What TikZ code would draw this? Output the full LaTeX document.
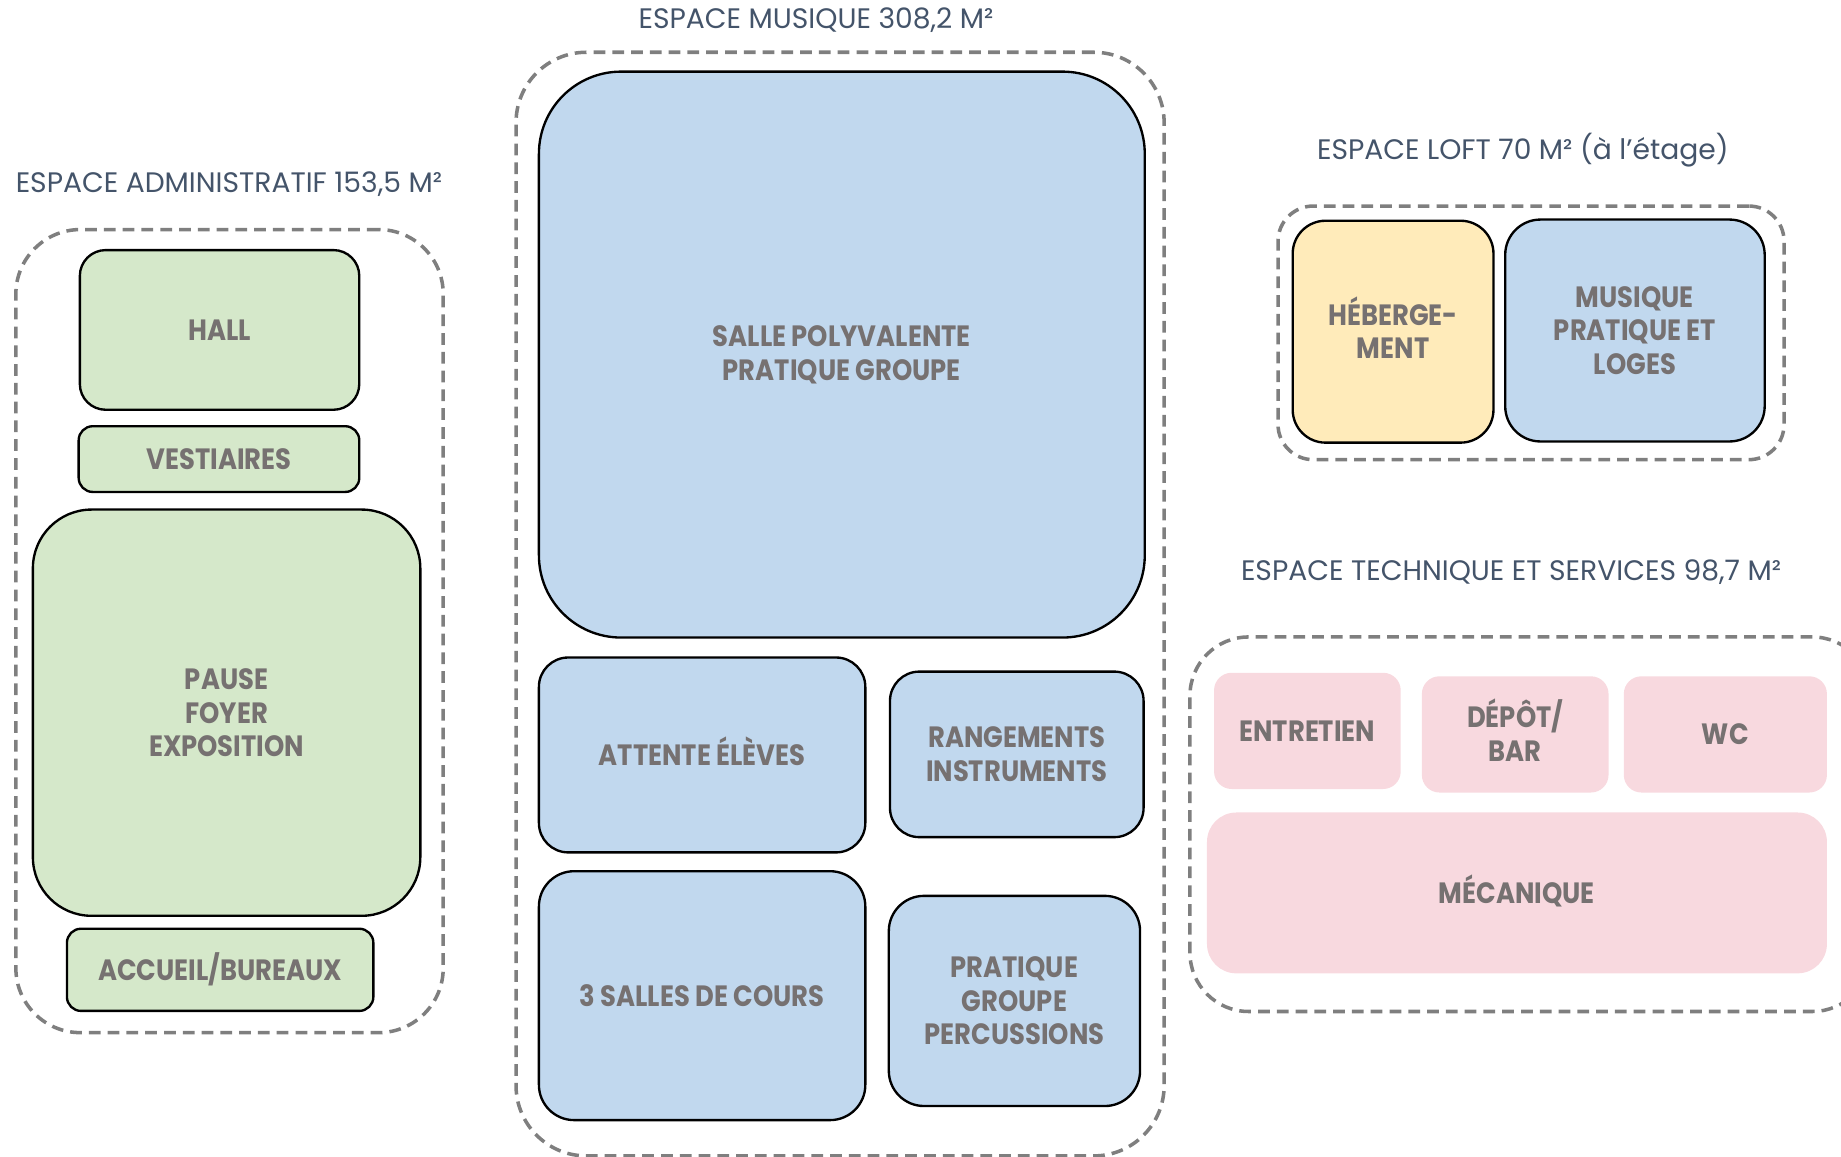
\documentclass[tikz,border=0pt]{standalone}
\usepackage{fontspec}
\newfontfamily\titlefont{Poppins}
\newfontfamily\boxfont{Poppins}[FakeStretch=0.88]
\newcommand{\capline}[1]{\smash{#1}\vphantom{A}}
\definecolor{grn}{HTML}{D5E8CA}
\definecolor{blu}{HTML}{C1D8EE}
\definecolor{yel}{HTML}{FFEBBA}
\definecolor{pnk}{HTML}{F8D9DF}
\definecolor{txtgray}{HTML}{767171}
\definecolor{ttl}{HTML}{44546A}
\definecolor{dashgray}{HTML}{7F7F7F}
\tikzset{
  room/.style={draw=black, line width=2pt, rounded corners=#1, inner sep=0pt,
    anchor=north west, align=center, text=txtgray,
    font=\boxfont\bfseries\fontsize{25}{28.5}\selectfont},
  flatroom/.style={room=#1, draw=none},
  group/.style={draw=dashgray, line width=3pt, dash pattern=on 10pt off 6pt,
    rounded corners=#1, inner sep=0pt, anchor=north west},
  grouptitle/.style={text=ttl, inner sep=0pt, anchor=center,
    font=\titlefont\fontsize{24}{27}\selectfont}
}
\begin{document}
\begin{tikzpicture}[x=1pt, y=-1pt]
\useasboundingbox (0,0) rectangle (1568,984.6);
\clip (0,0) rectangle (1568,984.6);
% titles
\node[grouptitle] (tadmin) at (195,157) {ESPACE ADMINISTRATIF 153,5 M²};
\node[grouptitle] (tmus) at (695,17) {ESPACE MUSIQUE 308,2 M²};
\node[grouptitle] (tloft) at (1297,128) {ESPACE LOFT 70 M² (à l’étage)};
\node[grouptitle] (ttech) at (1287,487) {ESPACE TECHNIQUE ET SERVICES 98,7 M²};
% group frames
\node[group=55pt, minimum width=364pt, minimum height=684pt] (gadmin) at (12,194) {};
\node[group=60pt, minimum width=552pt, minimum height=940pt] (gmus) at (438,43) {};
\node[group=30pt, minimum width=431pt, minimum height=216pt] (gloft) at (1087,174) {};
\node[group=50pt, minimum width=580pt, minimum height=319pt] (gtech) at (1012,541) {};
% admin
\node[room=22pt, fill=grn, minimum width=238pt, minimum height=136pt] (hall) at (67,212) {HALL};
\node[room=12pt, fill=grn, minimum width=239pt, minimum height=56pt] (vest) at (66,362) {VESTIAIRES};
\node[room=50pt, fill=grn, minimum width=330pt, minimum height=346pt] (pause) at (27,433) {PAUSE\\FOYER\\EXPOSITION};
\node[room=12pt, fill=grn, minimum width=261pt, minimum height=70pt] (accueil) at (56,790) {\capline{ACCUEIL/BUREAUX}};
% musique
\node[room=70pt, fill=blu, minimum width=516pt, minimum height=482pt] (salle) at (458,60) {SALLE POLYVALENTE\\PRATIQUE GROUPE};
\node[room=25pt, fill=blu, minimum width=278pt, minimum height=166pt] (attente) at (458,559) {\capline{ATTENTE ÉLÈVES}};
\node[room=25pt, fill=blu, minimum width=216pt, minimum height=141pt] (rang) at (757,571) {RANGEMENTS\\INSTRUMENTS};
\node[room=30pt, fill=blu, minimum width=278pt, minimum height=212pt] (cours) at (458,741) {3 SALLES DE COURS};
\node[room=30pt, fill=blu, minimum width=214pt, minimum height=179pt] (perc) at (756,762) {PRATIQUE\\GROUPE\\PERCUSSIONS};
% loft
\node[room=28pt, fill=yel, minimum width=171pt, minimum height=189pt] (heb) at (1100,187) {\capline{HÉBERGE-}\\MENT};
\node[room=30pt, fill=blu, minimum width=221pt, minimum height=189pt] (loges) at (1281,186) {MUSIQUE\\PRATIQUE ET\\LOGES};
% technique
\node[flatroom=15pt, fill=pnk, minimum width=159pt, minimum height=99pt] (entr) at (1033,572) {ENTRETIEN};
\node[flatroom=15pt, fill=pnk, minimum width=159pt, minimum height=99pt] (depot) at (1210,575) {\capline{DÉPÔT/}\\BAR};
\node[flatroom=15pt, fill=pnk, minimum width=173pt, minimum height=99pt] (wc) at (1382,575) {WC};
\node[flatroom=25pt, fill=pnk, minimum width=528pt, minimum height=137pt] (meca) at (1027,691) {\capline{MÉCANIQUE}};
\end{tikzpicture}
\end{document}
